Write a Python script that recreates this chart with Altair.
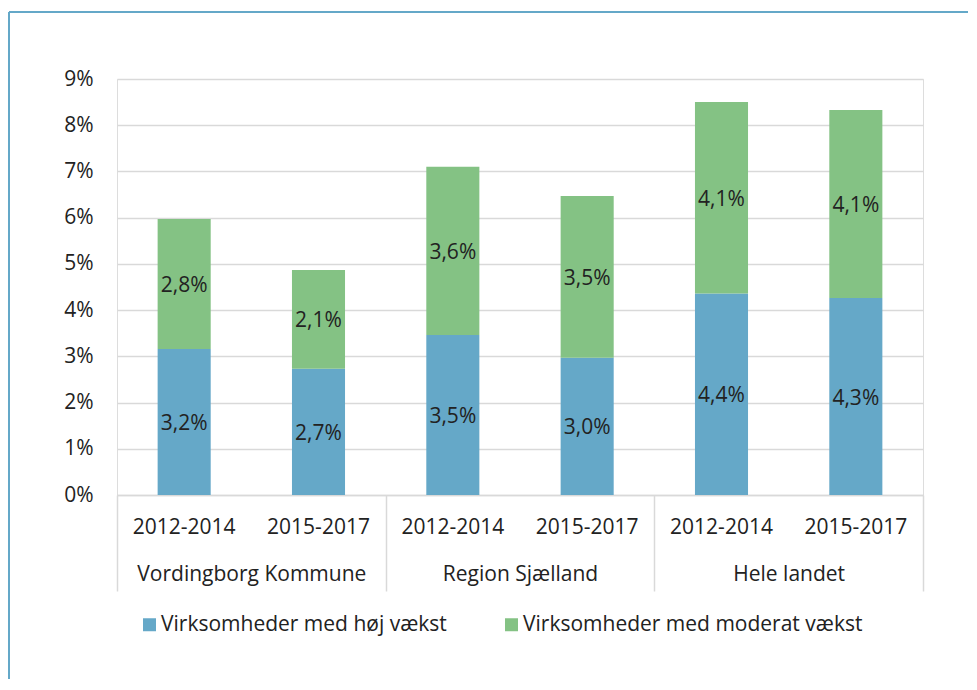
import altair as alt
import pandas as pd

groups = ["Vordingborg Kommune", "Vordingborg Kommune", "Region Sjælland",
          "Region Sjælland", "Hele landet", "Hele landet"]
periods = ["2012-2014", "2015-2017", "2012-2014", "2015-2017", "2012-2014", "2015-2017"]
series_names = ["Virksomheder med høj vækst", "Virksomheder med moderat vækst"]
hoej = [3.16, 2.73, 3.46, 2.97, 4.36, 4.26]
moderat = [2.81, 2.14, 3.64, 3.50, 4.14, 4.07]
y_ticks = [0, 1, 2, 3, 4, 5, 6, 7, 8, 9]

colors = ["#65A8C8", "#84C284"]
FONT = "Open Sans"
FS = 21
TXT = "#222222"
GRID = "#D9D9D9"

rows = []
for i in range(len(groups)):
    key = groups[i] + "|" + periods[i]
    for s, vals in enumerate([hoej, moderat]):
        rows.append({"key": key, "group": groups[i], "period": periods[i],
                     "series": series_names[s], "order": s, "value": vals[i]})
df = pd.DataFrame(rows)
keys = [g + "|" + p for g, p in zip(groups, periods)]
group_order = list(dict.fromkeys(groups))

W, H = 806, 416

base = alt.Chart(df)
xscale = alt.Scale(paddingInner=0.605, paddingOuter=0.3025)

xbar = alt.X("key:N", sort=keys, scale=xscale,
             axis=alt.Axis(title=None, orient="bottom", ticks=False, domain=True,
                           domainColor=GRID, domainWidth=1.5,
                           labelExpr="split(datum.value, '|')[1]", labelLimit=0,
                           labelAngle=0, labelFont=FONT, labelFontSize=FS,
                           labelColor=TXT, labelPadding=21, grid=False))

yscale = alt.Scale(domain=[0, 9], nice=False)

bars = base.mark_bar().encode(
    x=xbar,
    y=alt.Y("value:Q", stack="zero", scale=yscale,
            axis=alt.Axis(title=None, values=y_ticks, labelExpr="datum.value + '%'",
                          ticks=False, domain=False, labelFont=FONT, labelFontSize=FS,
                          labelColor=TXT, labelPadding=24, gridColor=GRID,
                          gridWidth=1.5)),
    color=alt.Color("series:N", sort=series_names,
                    scale=alt.Scale(domain=series_names, range=colors),
                    legend=alt.Legend(title=None, orient="none", direction="horizontal",
                                      legendX=22, legendY=535, symbolType="square",
                                      symbolSize=169, symbolStrokeWidth=0,
                                      labelFont=FONT, labelFontSize=FS, labelColor=TXT,
                                      labelLimit=0, labelOffset=1, columnPadding=54,
                                      padding=0)),
    order=alt.Order("order:Q"),
)

labels = base.transform_stack(
    stack="value", groupby=["key"], sort=[alt.SortField("order")], as_=["y0", "y1"]
).transform_calculate(
    mid="(datum.y0 + datum.y1) / 2",
    label="replace(format(datum.value, '.1f'), '.', ',') + '%'",
).mark_text(font=FONT, fontSize=FS, color=TXT, dy=2).encode(
    x=xbar,
    y=alt.Y("mid:Q", scale=yscale),
    text="label:N",
)

main = alt.layer(bars, labels)

group_axis = base.mark_point(opacity=0).encode(
    x=alt.X("group:N", sort=group_order,
            scale=alt.Scale(paddingInner=0, paddingOuter=0),
            axis=alt.Axis(title=None, orient="bottom", tickBand="extent", tickSize=96,
                          tickColor=GRID, tickWidth=1.5, domain=False, labelAngle=0,
                          labelPadding=-28, labelFont=FONT, labelFontSize=FS,
                          labelLimit=0, labelColor=TXT, grid=False)),
    y=alt.value(0),
)

frame_top = alt.Chart(pd.DataFrame({"a": [0]})).mark_rule(
    color="#64A8C8", strokeWidth=2).encode(
    x=alt.value(-108), x2=alt.value(W + 45), y=alt.value(-67))
frame_left = alt.Chart(pd.DataFrame({"a": [0]})).mark_rule(
    color="#64A8C8", strokeWidth=2).encode(
    x=alt.value(-108), y=alt.value(-67), y2=alt.value(H + 184))

chart = alt.layer(main, group_axis, frame_top, frame_left).resolve_scale(
    x="independent"
).resolve_axis(x="independent").properties(
    width=W, height=H, padding={"left": 0, "top": 3, "right": 0, "bottom": 0}
).configure_view(stroke=None).configure(background="white")

chart.save("out.html", embed_options={"renderer": "svg", "actions": False})
